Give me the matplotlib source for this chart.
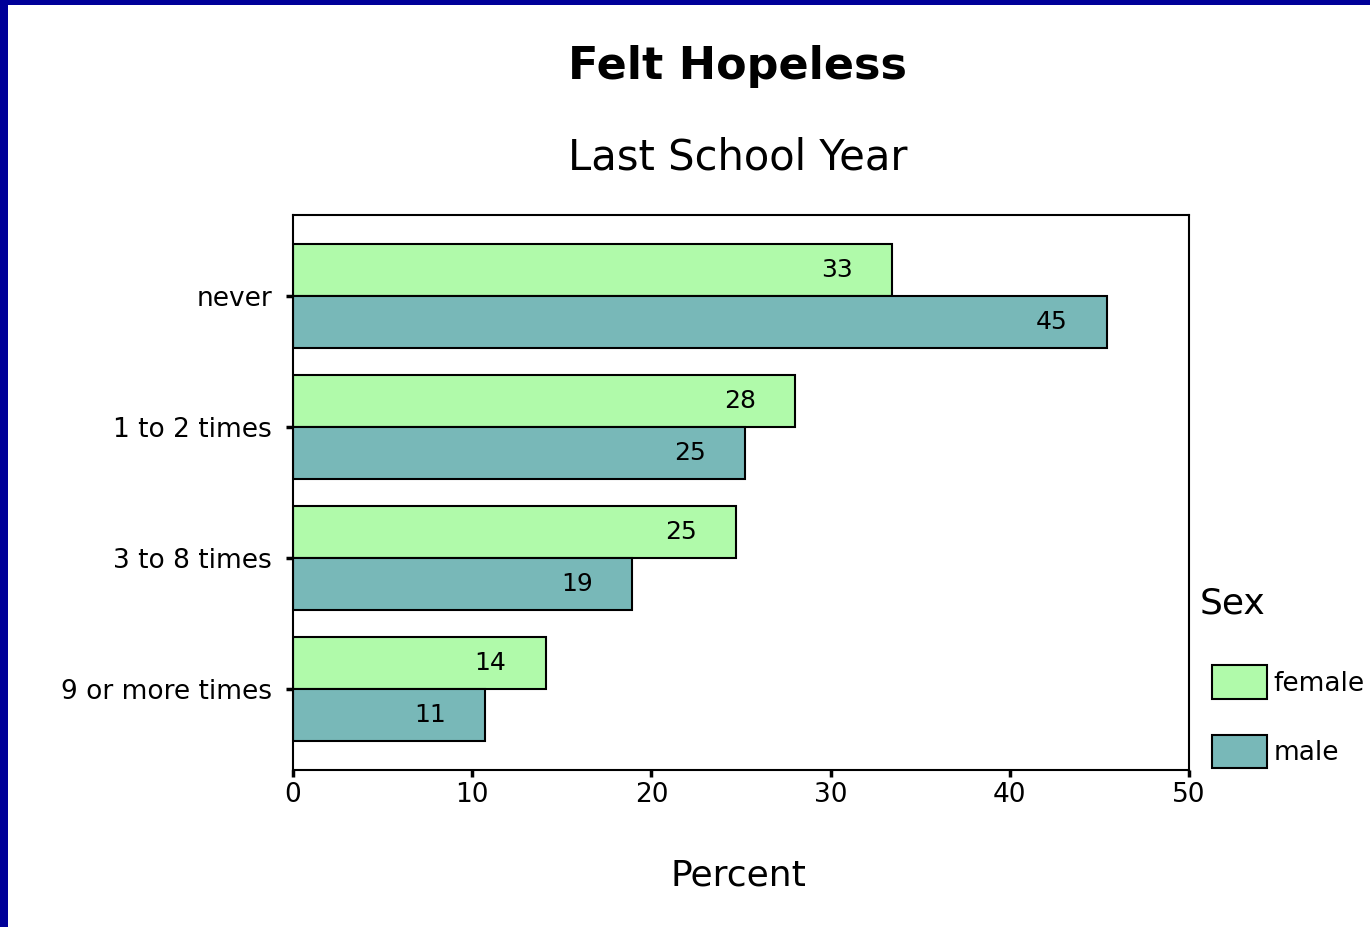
import numpy as np
import matplotlib
matplotlib.use('Agg')
import matplotlib.pyplot as plt
from matplotlib.patches import Rectangle

# Data (percent of students)
categories = ['never', '1 to 2 times', '3 to 8 times', '9 or more times']
female = [33.4, 28.0, 24.7, 14.1]
male = [45.4, 25.2, 18.9, 10.7]
sex_labels = ['female', 'male']
x_ticks = [0, 10, 20, 30, 40, 50]

female_color = '#B0FAAA'
male_color = '#78B8B8'

fig = plt.figure(figsize=(13.7, 9.27), dpi=100)
fig.patch.set_facecolor('white')

# dark blue slide border on the left and top
fig.patches.append(Rectangle((0, 0), 8 / 1370, 1, transform=fig.transFigure,
                             facecolor='#000099', edgecolor='none', zorder=0))
fig.patches.append(Rectangle((0, 1 - 5 / 927), 1, 5 / 927, transform=fig.transFigure,
                             facecolor='#000099', edgecolor='none', zorder=0))

ax = fig.add_axes([293 / 1370, 1 - 770 / 927, 896 / 1370, 555 / 927])

y = np.arange(len(categories))
h = 0.397
bars_f = ax.barh(y - h / 2, female, height=h, color=female_color, edgecolor='black',
                 linewidth=1.5, label=sex_labels[0])
bars_m = ax.barh(y + h / 2, male, height=h, color=male_color, edgecolor='black',
                 linewidth=1.5, label=sex_labels[1])

# value labels inside the bar ends
for bars, vals in [(bars_f, female), (bars_m, male)]:
    for b, v in zip(bars, vals):
        ax.annotate(f'{v:.0f}', (v, b.get_y() + b.get_height() / 2),
                    xytext=(-55, 0), textcoords='offset pixels',
                    ha='center', va='center', fontsize=18, color='black')

ax.set_xlim(0, 50)
ax.set_ylim(3.618, -0.618)
ax.set_xticks(x_ticks)
ax.set_xticklabels([str(t) for t in x_ticks], fontsize=19)
ax.set_yticks(y)
ax.set_yticklabels(categories, fontsize=19)
ax.tick_params(axis='both', direction='out', length=5, width=2.5, color='black')
ax.tick_params(axis='y', pad=10)
ax.tick_params(axis='x', pad=4)
for s in ax.spines.values():
    s.set_linewidth(1.5)
    s.set_color('black')

fig.text(738 / 1370, 1 - 66 / 927, 'Felt Hopeless', ha='center', va='center',
         fontsize=32, fontweight='bold')
fig.text(738 / 1370, 1 - 158 / 927, 'Last School Year', ha='center', va='center',
         fontsize=30)
fig.text(738 / 1370, 1 - 876 / 927, 'Percent', ha='center', va='center', fontsize=26)
fig.text(1200 / 1370, 1 - 603 / 927, 'Sex', ha='left', va='center', fontsize=26)

leg = ax.legend(loc='upper left', bbox_to_anchor=(1212 / 1370, 1 - 665 / 927),
                bbox_transform=fig.transFigure, frameon=False,
                fontsize=19, handlelength=2.08, handleheight=1.6, handletextpad=0.25,
                labelspacing=1.35, borderpad=0, borderaxespad=0)

fig.savefig('out.png', dpi=100, facecolor='white')
